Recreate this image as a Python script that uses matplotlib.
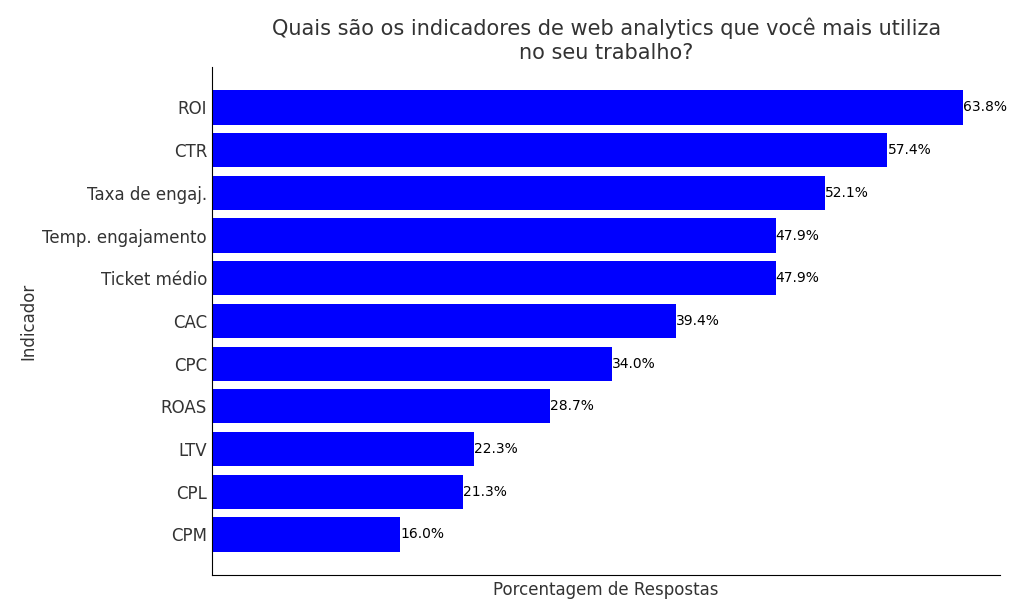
import matplotlib
matplotlib.use("Agg")
import matplotlib.pyplot as plt

indicadores = ['ROI', 'CTR', 'Taxa de engaj.', 'Temp. engajamento', 'Ticket médio',
               'CAC', 'CPC', 'ROAS', 'LTV', 'CPL', 'CPM']
porcentagens = [63.8, 57.4, 52.1, 47.9, 47.9, 39.4, 34.0, 28.7, 22.3, 21.3, 16.0]

fig = plt.figure(figsize=(10.24, 6.14), dpi=100)
ax = fig.add_axes([0.207, 0.0635, 0.77, 0.8275])

pos = list(range(len(indicadores)))
ax.barh(pos, porcentagens, height=0.8, color='#0000ff')
for p, v in zip(pos, porcentagens):
    ax.text(v, p, f'{v:.1f}%', va='center', ha='left', fontsize=10, color='black')

ax.set_yticks(pos)
ax.set_yticklabels(indicadores, fontsize=12, color='#333333')
ax.set_ylim(len(indicadores) - 0.05, -0.95)
ax.set_xlim(0, 67)
ax.set_xticks([])
ax.tick_params(axis='y', length=0)
for s in ['top', 'right']:
    ax.spines[s].set_visible(False)

ax.set_xlabel('Porcentagem de Respostas', fontsize=12, color='#333333')
ax.set_ylabel('Indicador', fontsize=12, color='#333333')
ax.set_title('Quais são os indicadores de web analytics que você mais utiliza\nno seu trabalho?',
             fontsize=15, color='#333333')

fig.savefig('out.png', dpi=100)
